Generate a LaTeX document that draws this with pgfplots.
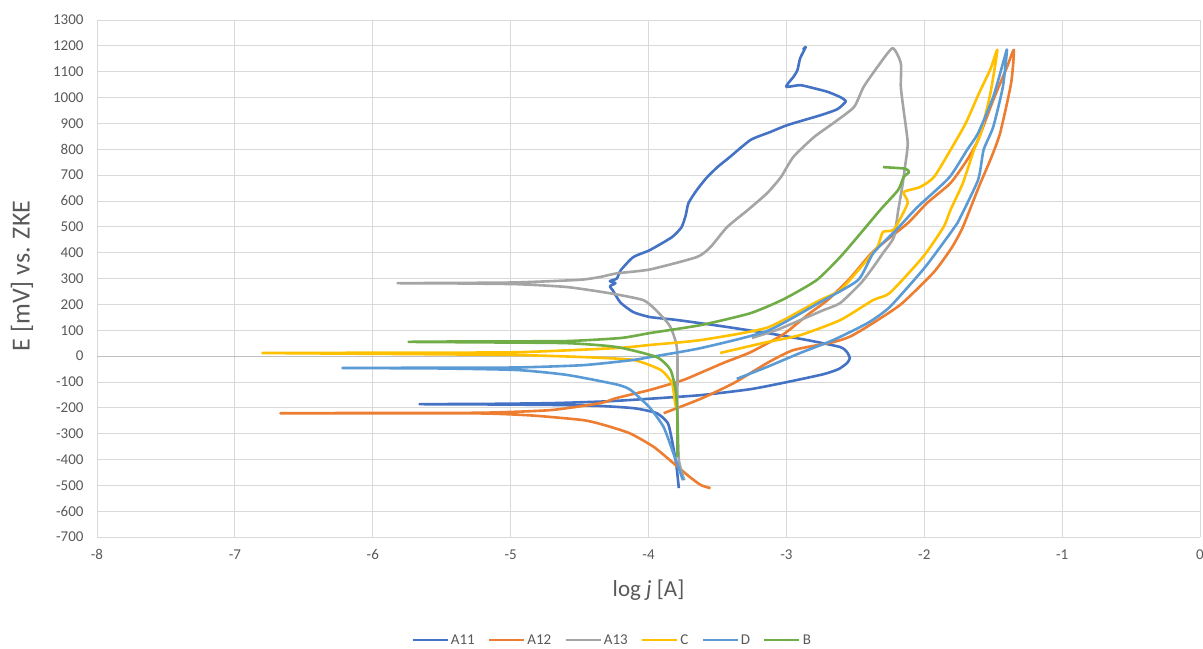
\documentclass[border=0pt]{standalone}
\usepackage{pgfplots}
\pgfplotsset{compat=1.18}
\usepackage{fontspec}
\setmainfont{Carlito}
\definecolor{cA11}{HTML}{4472C4}
\definecolor{cA12}{HTML}{ED7D31}
\definecolor{cA13}{HTML}{A5A5A5}
\definecolor{cC}{HTML}{FFC000}
\definecolor{cD}{HTML}{5B9BD5}
\definecolor{cB}{HTML}{70AD47}
\definecolor{gridgray}{HTML}{D9D9D9}
\definecolor{zerogray}{HTML}{BFBFBF}
\definecolor{tickgray}{HTML}{595959}
\begin{document}
\begin{tikzpicture}
\begin{axis}[
 scale only axis, width=1103pt, height=517pt,
 xmin=-8, xmax=0, ymin=-700, ymax=1300,
 xtick={-8,-7,-6,-5,-4,-3,-2,-1,0},
 ytick={-700,-600,-500,-400,-300,-200,-100,0,100,200,300,400,500,600,700,800,900,1000,1100,1200,1300},
 grid=major, major grid style={draw=gridgray, line width=0.8pt},
 extra y ticks={0}, extra y tick labels={},
 extra y tick style={grid=major, major grid style={draw=zerogray, line width=0.9pt}},
 axis line style={draw=none},
 tick style={draw=none},
 ticklabel style={font=\fontsize{15}{18}\selectfont, text=tickgray},
 yticklabel style={xshift=-10pt},
 xticklabel style={yshift=-9pt},
 /pgf/number format/assume math mode=true,
 /pgf/number format/1000 sep={},
 xlabel={log \textit{j} [A]}, ylabel={E [mV] vs. ZKE},
 xlabel style={font=\fontsize{23}{27}\selectfont, text=tickgray, at={(axis description cs:0.5,-0.103)}, anchor=center},
 ylabel style={font=\fontsize{26}{30}\selectfont, text=tickgray, at={(axis description cs:-0.068,0.505)}, anchor=center},
 legend style={at={(axis description cs:0.467,-0.199)}, anchor=center, draw=none,
   font=\fontsize{15}{17}\selectfont, text=tickgray,
   /tikz/every even column/.append style={column sep=11pt}},
 legend columns=6,
 legend image code/.code={\draw[#1] (0pt,0pt) -- (35pt,0pt);},
 every axis plot/.append style={line width=2.6pt, no marks, line join=round, smooth, tension=0.35},
]
% A11
\addplot[cA11] coordinates {
(-3.78,-511) (-3.79,-460) (-3.80,-414) (-3.83,-325) (-3.86,-259) (-3.94,-221) (-4.10,-202) (-4.35,-193) (-4.70,-189) (-5.20,-187) (-5.66,-186)
(-5.20,-185) (-4.70,-182) (-4.30,-175) (-3.99,-165) (-3.62,-151) (-3.26,-128) (-2.99,-100) (-2.73,-70) (-2.62,-50) (-2.56,-27) (-2.54,-8) (-2.56,15) (-2.61,35) (-2.85,62) (-3.14,89) (-3.50,118) (-3.80,140) (-3.99,151) (-4.11,170) (-4.20,205) (-4.23,228) (-4.26,255) (-4.28,270) (-4.24,282) (-4.28,290) (-4.23,300) (-4.20,333) (-4.11,383) (-3.99,410) (-3.83,460) (-3.76,499) (-3.73,545) (-3.71,592) (-3.65,642) (-3.58,689) (-3.50,731) (-3.41,770) (-3.26,836) (-3.12,866) (-2.99,894) (-2.75,932) (-2.63,955) (-2.57,985) (-2.61,1002) (-2.70,1022) (-2.80,1036) (-2.90,1048) (-3.00,1041) (-2.98,1060) (-2.95,1079) (-2.92,1106) (-2.90,1152) (-2.86,1195) (-2.88,1185)
};
\addlegendentry{A11}
% A12
\addplot[cA12] coordinates {
(-3.55,-511) (-3.62,-499) (-3.70,-468) (-3.82,-414) (-3.96,-352) (-4.13,-300) (-4.30,-270) (-4.47,-248) (-4.84,-230) (-5.20,-222) (-6.00,-221) (-6.67,-221)
(-6.00,-220) (-5.20,-219) (-4.71,-209) (-4.35,-182) (-4.23,-162) (-3.99,-131) (-3.75,-93) (-3.62,-64) (-3.45,-25) (-3.26,15) (-3.02,85) (-2.83,166) (-2.70,217) (-2.54,300) (-2.37,405) (-2.12,514) (-1.98,592) (-1.81,669) (-1.69,758) (-1.61,836) (-1.50,990) (-1.40,1118) (-1.35,1184)
(-1.37,1056) (-1.45,862) (-1.52,760) (-1.60,660) (-1.72,499) (-1.80,420) (-1.93,325) (-2.17,200) (-2.41,115) (-2.54,75) (-2.66,54) (-2.95,23) (-3.14,-27) (-3.38,-104) (-3.62,-165) (-3.89,-221)
};
\addlegendentry{A12}
% A13
\addplot[cA13] coordinates {
(-3.74,-480) (-3.78,-400) (-3.79,-200) (-3.79,0) (-3.80,50) (-3.83,100) (-3.86,128) (-3.95,180) (-4.04,217) (-4.28,243) (-4.59,267) (-4.95,278) (-5.40,281) (-5.82,282)
(-5.40,283) (-4.95,285) (-4.50,295) (-4.35,306) (-4.23,320) (-3.99,335) (-3.65,383) (-3.55,422) (-3.43,499) (-3.28,565) (-3.14,630) (-3.04,692) (-2.95,770) (-2.80,847) (-2.66,901) (-2.51,963) (-2.44,1041) (-2.34,1118) (-2.23,1191)
(-2.17,1133) (-2.17,1041) (-2.15,952) (-2.12,824) (-2.14,731) (-2.16,654) (-2.19,560) (-2.22,460) (-2.30,398) (-2.37,344) (-2.46,282) (-2.61,205) (-2.73,178) (-2.90,139) (-3.07,101) (-3.25,70)
};
\addlegendentry{A13}
% C
\addplot[cC] coordinates {
(-3.80,-200) (-3.81,-170) (-3.83,-104) (-3.91,-54) (-4.11,-15) (-4.47,-4) (-4.95,4) (-5.80,8) (-6.80,12)
(-5.80,13) (-4.95,15) (-4.23,31) (-3.99,43) (-3.62,62) (-3.14,110) (-2.78,210) (-2.61,255) (-2.46,344) (-2.34,422) (-2.30,480) (-2.22,490) (-2.12,592) (-2.15,634) (-2.03,654) (-1.93,692) (-1.81,797) (-1.70,900) (-1.60,1020) (-1.52,1110) (-1.47,1184)
(-1.52,1017) (-1.59,862) (-1.64,797) (-1.72,669) (-1.81,565) (-1.86,499) (-2.01,383) (-2.25,244) (-2.37,217) (-2.61,139) (-2.90,81) (-3.14,54) (-3.48,12)
};
\addlegendentry{C}
% D
\addplot[cD] coordinates {
(-3.75,-480) (-3.82,-375) (-3.89,-275) (-3.99,-200) (-4.13,-131) (-4.23,-110) (-4.59,-73) (-4.95,-54) (-5.50,-48) (-6.22,-46)
(-5.50,-45) (-4.95,-44) (-4.47,-35) (-4.11,-15) (-3.99,-4) (-3.62,31) (-3.14,97) (-2.75,210) (-2.48,294) (-2.37,398) (-2.20,490) (-2.05,576) (-1.82,690) (-1.69,797) (-1.61,862) (-1.50,1002) (-1.42,1150) (-1.40,1184)
(-1.43,1041) (-1.50,886) (-1.57,797) (-1.61,681) (-1.76,514) (-1.81,476) (-2.00,340) (-2.25,190) (-2.41,128) (-2.66,62) (-2.90,12) (-3.14,-42) (-3.36,-88)
};
\addlegendentry{D}
% B
\addplot[cB] coordinates {
(-3.79,-391) (-3.79,-250) (-3.80,-143) (-3.84,-54) (-3.94,-4) (-4.23,35) (-4.59,50) (-5.20,53) (-5.74,55)
(-5.20,57) (-4.60,58) (-4.20,70) (-3.99,89) (-3.62,120) (-3.26,166) (-3.02,220) (-2.78,294) (-2.61,383) (-2.46,476) (-2.32,565) (-2.19,642) (-2.15,692) (-2.11,712) (-2.14,725) (-2.30,731)
};
\addlegendentry{B}
\end{axis}
\pgfresetboundingbox
\path[use as bounding box] ([shift={(-97pt,-111pt)}]current axis.south west) rectangle ([shift={(3pt,20pt)}]current axis.north east);
\end{tikzpicture}
\end{document}
